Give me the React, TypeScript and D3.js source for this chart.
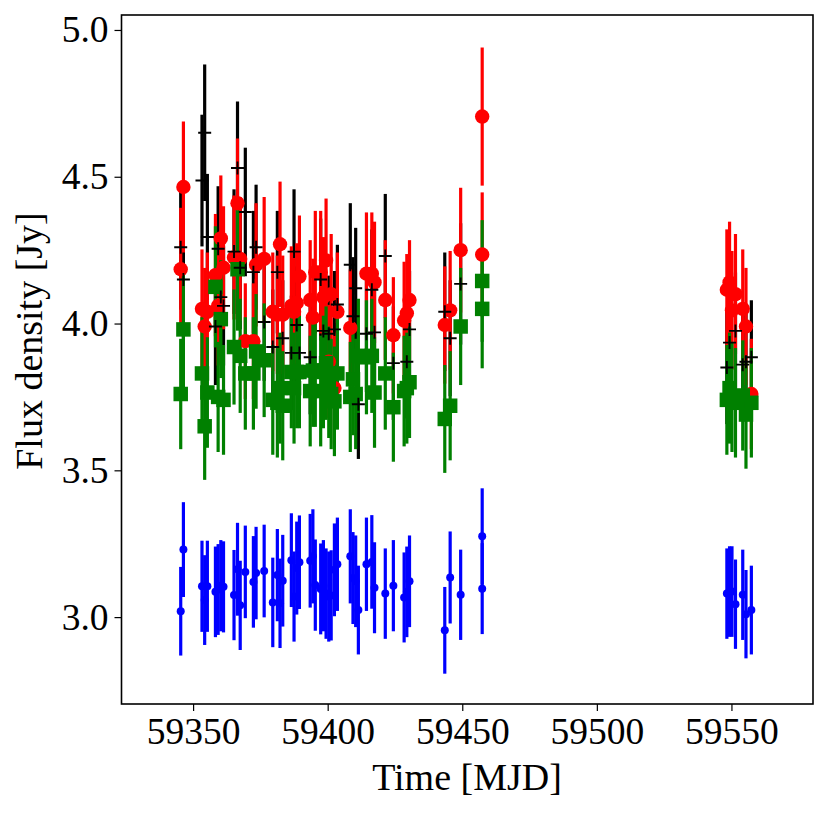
import React, { useEffect, useRef } from 'react';
import * as d3 from 'd3';

// Observation epochs, one entry per point in each series [MJD]
const times = [
  59345.4, 59346.4, 59353.3, 59354.3, 59355.3, 59358.3, 59359.3, 59360.3, 59361.3, 59365.2,
  59366.5, 59367.5, 59369.4, 59372.4, 59373.4, 59376.4, 59379.6, 59381.3, 59382.3, 59383.3,
  59386.5, 59387.5, 59388.5, 59389.5, 59393.5, 59394.5, 59395.4, 59397.4, 59398.4, 59399.4,
  59400.4, 59401.3, 59402.5, 59403.6, 59408.4, 59409.4, 59410.4, 59411.4, 59414.4, 59416.4,
  59417.4, 59421.4, 59424.4, 59428.4, 59429.4, 59430.4, 59443.5, 59445.5, 59449.4, 59457.4,
  59457.4, 59548.3, 59549.3, 59550.2, 59551.5, 59554.2, 59555.4, 59557.4,
];

const blueFlux = [
  3.02, 3.23, 3.105, 3.058, 3.105, 3.086, 3.094, 3.107, 3.103, 3.075,
  3.163, 3.04, 3.154, 3.12, 3.15, 3.157, 3.05, 3.143, 3.047, 3.124,
  3.194, 3.07, 3.167, 3.187, 3.192, 3.207, 3.109, 3.096, 3.107, 3.08,
  3.07, 3.074, 3.161, 3.18, 3.207, 3.133, 3.122, 3.024, 3.18, 3.188,
  3.1, 3.08, 3.107, 3.067, 3.086, 3.122, 2.955, 3.135, 3.076, 3.275,
  3.097, 3.08, 3.087, 3.087, 3.044, 3.076, 3.01, 3.024,
];

// null where a band shows no point at that epoch
const redFlux: (number | null)[] = [
  4.185, 4.465, 4.05, 3.99, 4.04, 4.165, 4.06, 4.29, 4.19, 4.225,
  4.41, 4.22, 3.94, 3.94, 4.2, 4.22, 4.04, 4.03, 4.27, 4.03,
  4.06, 4.04, 4.07, 4.16, 4.08, 4.02, 4.175, 4.175, 4.09, 4.215,
  3.87, 4.1, 3.78, 4.04, 3.985, null, null, null, 4.17, 4.17,
  4.14, 4.08, 3.96, 4.01, 4.035, 4.08, 3.995, 4.045, 4.25, 4.705,
  4.235, 4.115, 4.14, 4.045, 4.1, 4.05, 3.99, 3.76,
];

const greenFlux = [
  3.76, 3.98, 3.83, 3.65, 3.765, 4.125, 3.75, 4.015, 3.74, 3.92,
  4.185, 3.89, 3.83, 3.83, 3.905, 3.875, 3.74, 3.73, 3.78, 3.72,
  3.835, 3.78, 3.835, 3.835, 3.77, 3.84, 3.84, 3.77, 3.835, 3.865,
  3.8, 3.76, 3.735, 3.83, 3.75, 3.81, 3.76, 3.89, 3.885, 3.89,
  3.765, 3.83, 3.715, 3.77, 3.78, 3.8, 3.675, 3.72, 3.99, 4.145,
  4.05, 3.74, 3.78, 3.75, 3.73, 3.755, 3.69, 3.73,
];

const blackFlux: (number | null)[] = [
  4.26, 4.15, 4.487, 4.65, 4.295, 3.99, 4.255, 4.09, 4.06, 4.245,
  4.53, 4.19, 4.38, 4.175, 4.26, 4.005, 3.92, 4.175, null, 3.95,
  3.9, 4.245, 3.995, 3.9, 3.885, null, null, 4.15, 3.975, null,
  3.965, null, 3.98, 4.065, 4.2, 4.025, 4.12, 3.725, 3.965, 4.115,
  3.97, 4.23, 3.865, null, 3.87, 3.98, 4.04, 3.95, 4.135, null,
  null, 3.85, 3.935, null, 3.975, 3.86, 3.87, 3.885,
];

// error bars read as about 5% of the flux in every band
const relError = 0.05;

const xTicks = [59350, 59400, 59450, 59500, 59550];
const yTicks = [3.0, 3.5, 4.0, 4.5, 5.0];

const width = 829;
const height = 816;
const margin = { top: 15, right: 16, bottom: 112, left: 121.5 };
const fontFamily = '"Liberation Serif", "Times New Roman", serif';
const tickFont = 37.5;
const labelFont = 38;

const App: React.FC = () => {
  const svgRef = useRef<SVGSVGElement | null>(null);

  useEffect(() => {
    if (!svgRef.current) return;
    const svg = d3.select(svgRef.current);
    svg.selectAll('*').remove();

    const x = d3.scaleLinear().domain([59323.4, 59580.3]).range([margin.left, width - margin.right]);
    const y = d3.scaleLinear().domain([2.704, 5.051]).range([height - margin.bottom, margin.top]);

    const pointsOf = (flux: (number | null)[]) =>
      flux.flatMap((f, i) => (f === null ? [] : [{ t: times[i], f }]));

    const errorBars = (flux: (number | null)[], color: string, w: number) => {
      svg.append('g').selectAll('line').data(pointsOf(flux)).enter().append('line')
        .attr('x1', d => x(d.t)).attr('x2', d => x(d.t))
        .attr('y1', d => y(d.f * (1 - relError))).attr('y2', d => y(d.f * (1 + relError)))
        .attr('stroke', color).attr('stroke-width', w);
    };

    const markers = (flux: (number | null)[], color: string, d: string) => {
      svg.append('g').selectAll('path').data(pointsOf(flux)).enter().append('path')
        .attr('transform', p => `translate(${x(p.t)},${y(p.f)})`)
        .attr('d', d).attr('fill', color);
    };

    // bars go under all markers; black bars lowest, crosses on top
    errorBars(blueFlux, '#0000ff', 3.2);
    errorBars(blackFlux, '#000000', 3.2);
    errorBars(redFlux, '#ff0000', 3.2);
    errorBars(greenFlux, '#008000', 3.2);

    markers(blueFlux, '#0000ff', d3.symbol().type(d3.symbolCircle).size(Math.PI * 4 * 4)()!);
    markers(redFlux, '#ff0000', d3.symbol().type(d3.symbolCircle).size(Math.PI * 7.2 * 7.2)()!);
    markers(greenFlux, '#008000', d3.symbol().type(d3.symbolSquare).size(14.5 * 14.5)()!);

    svg.append('g').selectAll('path').data(pointsOf(blackFlux)).enter().append('path')
      .attr('transform', p => `translate(${x(p.t)},${y(p.f)})`)
      .attr('d', 'M-6.5,0H6.5M0,-6.5V6.5')
      .attr('fill', 'none').attr('stroke', '#000').attr('stroke-width', 1.9);

    // Frame
    svg.append('rect')
      .attr('x', margin.left).attr('y', margin.top)
      .attr('width', width - margin.left - margin.right)
      .attr('height', height - margin.top - margin.bottom)
      .attr('fill', 'none').attr('stroke', '#000').attr('stroke-width', 1.6);

    // Axes
    const xAxis = svg.append('g')
      .attr('transform', `translate(0,${height - margin.bottom})`)
      .call(d3.axisBottom(x).tickValues(xTicks).tickFormat(d3.format('d')).tickSize(7).tickPadding(6));
    const yAxis = svg.append('g')
      .attr('transform', `translate(${margin.left},0)`)
      .call(d3.axisLeft(y).tickValues(yTicks).tickFormat(d3.format('.1f')).tickSize(7).tickPadding(6));

    [xAxis, yAxis].forEach(a => {
      a.select('.domain').remove();
      a.selectAll('line').attr('stroke', '#000').attr('stroke-width', 1.2);
      a.selectAll('text').attr('fill', '#000').attr('font-family', fontFamily).attr('font-size', tickFont);
    });

    svg.append('text')
      .attr('x', 467).attr('y', 790).attr('text-anchor', 'middle')
      .attr('font-family', fontFamily).attr('font-size', labelFont).attr('fill', '#000')
      .text('Time [MJD]');
    svg.append('text')
      .attr('transform', 'translate(42,341) rotate(-90)').attr('text-anchor', 'middle')
      .attr('font-family', fontFamily).attr('font-size', labelFont).attr('fill', '#000')
      .text('Flux density [Jy]');
  }, []);

  return (
    <div style={{ position: 'absolute', left: 0, top: 0 }}>
      <svg ref={svgRef} width={width} height={height} style={{ display: 'block', background: '#fff' }} />
    </div>
  );
};

export default App;
